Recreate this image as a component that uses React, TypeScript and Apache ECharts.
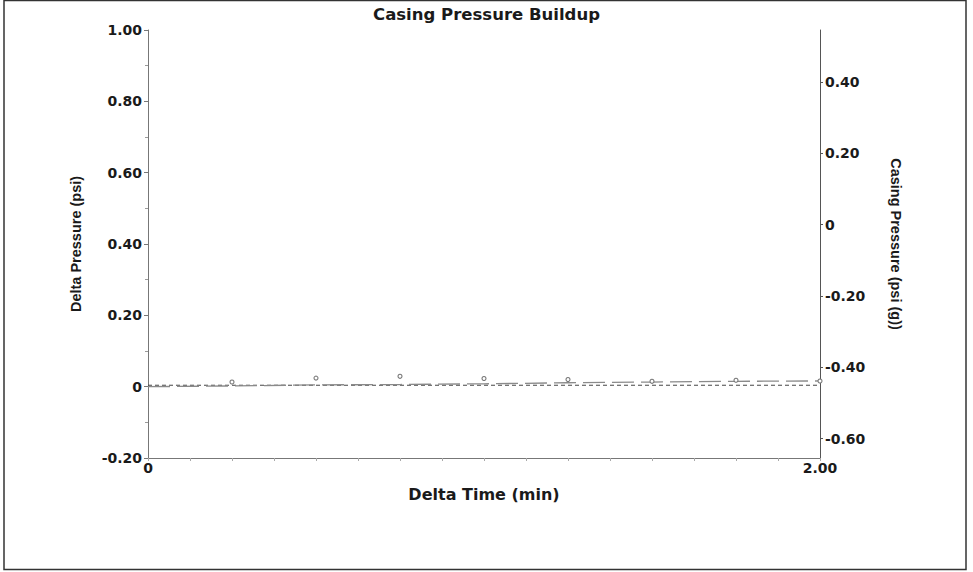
import React, { useEffect, useRef } from "react";
import * as echarts from "echarts";

// Delta time (min) sample points
const times = [0, 0.25, 0.5, 0.75, 1.0, 1.25, 1.5, 1.75, 2.0];
// Delta pressure trend (psi), long-dashed line
const deltaTrend = [0, 0.002, 0.005, 0.006, 0.008, 0.011, 0.013, 0.015, 0.016];
// Delta pressure measured points (psi), circles
const pointTimes = [0.25, 0.5, 0.75, 1.0, 1.25, 1.5, 1.75, 2.0];
const deltaPoints = [0.013, 0.024, 0.029, 0.023, 0.02, 0.015, 0.018, 0.016];
// Casing pressure (psi (g)), short-dashed line on right axis
const casingPressure = [-0.45, -0.45, -0.45, -0.45, -0.45, -0.45, -0.45, -0.45, -0.45];
// Right axis tick labels
const rightTicks = [-0.6, -0.4, -0.2, 0, 0.2, 0.4];

const fmt = (v: number) => (Math.abs(v) < 1e-9 ? "0" : v.toFixed(2));

export default function App() {
  const ref = useRef<HTMLDivElement>(null);
  useEffect(() => {
    if (!ref.current) return;
    const chart = echarts.init(ref.current, undefined, { renderer: "svg" });
    const numFont = {
      fontFamily: "DejaVu Sans",
      fontWeight: "bold" as const,
      fontSize: 14,
      color: "#1a1a1a",
    };
    chart.setOption({
      animation: false,
      backgroundColor: "#ffffff",
      title: {
        text: "Casing Pressure Buildup",
        left: "center",
        top: 1,
        textStyle: {
          fontFamily: "DejaVu Sans",
          fontWeight: "bold",
          fontSize: 16.5,
          color: "#1a1a1a",
        },
      },
      grid: { left: 148, right: 153, top: 30, bottom: 114, containLabel: false },
      xAxis: {
        type: "value",
        min: 0,
        max: 2,
        interval: 0.125,
        name: "Delta Time (min)",
        nameLocation: "middle",
        nameGap: 28,
        nameTextStyle: {
          fontFamily: "DejaVu Sans",
          fontWeight: "bold",
          fontSize: 16,
          color: "#1a1a1a",
        },
        axisLine: { show: true, onZero: false, lineStyle: { color: "#777", width: 1 } },
        axisTick: { show: true, length: 3, lineStyle: { color: "#aaa" } },
        axisLabel: {
          ...numFont,
          margin: 3,
          formatter: (v: number) => (v === 0 ? "0" : v === 2 ? "2.00" : ""),
        },
        splitLine: { show: false },
      },
      yAxis: [
        {
          type: "value",
          min: -0.2,
          max: 1.0,
          interval: 0.2,
          position: "left",
          name: "Delta Pressure (psi)",
          nameLocation: "middle",
          nameGap: 65,
          nameRotate: 90,
          nameTextStyle: {
            fontFamily: "Liberation Sans",
            fontWeight: "bold",
            fontSize: 14.5,
            color: "#1a1a1a",
          },
          axisLine: { show: true, onZero: false, lineStyle: { color: "#777", width: 1 } },
          axisTick: { show: true, length: 4, lineStyle: { color: "#777" } },
          minorTick: { show: true, splitNumber: 2, length: 3, lineStyle: { color: "#999" } },
          axisLabel: { ...numFont, margin: 6, formatter: fmt },
          splitLine: { show: false },
        },
        {
          type: "value",
          min: -0.654,
          max: 0.546,
          position: "right",
          name: "Casing Pressure (psi (g))",
          nameLocation: "middle",
          nameGap: 68,
          nameRotate: -90,
          nameTextStyle: {
            fontFamily: "Liberation Sans",
            fontWeight: "bold",
            fontSize: 14.5,
            color: "#1a1a1a",
          },
          axisLine: { show: true, onZero: false, lineStyle: { color: "#555", width: 1 } },
          axisTick: {
            show: true,
            length: 3,
            customValues: rightTicks,
            lineStyle: { color: "#555" },
          },
          axisLabel: {
            ...numFont,
            margin: 5,
            customValues: rightTicks,
            formatter: fmt,
          },
          splitLine: { show: false },
        },
      ],
      series: [
        {
          name: "Delta Pressure",
          type: "line",
          yAxisIndex: 0,
          data: times.map((t, i) => [t, deltaTrend[i]]),
          showSymbol: false,
          symbol: "none",
          lineStyle: { color: "#8a8a8a", width: 1.3, type: [22, 7] },
          z: 3,
        },
        {
          name: "Casing Pressure",
          type: "line",
          yAxisIndex: 1,
          data: times.map((t, i) => [t, casingPressure[i]]),
          showSymbol: false,
          symbol: "none",
          lineStyle: { color: "#444", width: 1, type: [4, 3] },
          z: 2,
        },
        {
          name: "Delta Pressure Points",
          type: "scatter",
          yAxisIndex: 0,
          data: pointTimes.map((t, i) => [t, deltaPoints[i]]),
          symbol: "circle",
          symbolSize: 4,
          itemStyle: { color: "#ffffff", borderColor: "#777", borderWidth: 1.1, opacity: 1 },
          z: 5,
        },
      ],
      graphic: [
        {
          type: "rect",
          shape: { x: 4, y: 0.5, width: 962, height: 569 },
          style: { fill: "none", stroke: "#333", lineWidth: 1.5 },
          silent: true,
        },
      ],
    });
    return () => chart.dispose();
  }, []);
  return (
    <div
      ref={ref}
      style={{ position: "absolute", left: 0, top: 0, width: 973, height: 572 }}
    />
  );
}
